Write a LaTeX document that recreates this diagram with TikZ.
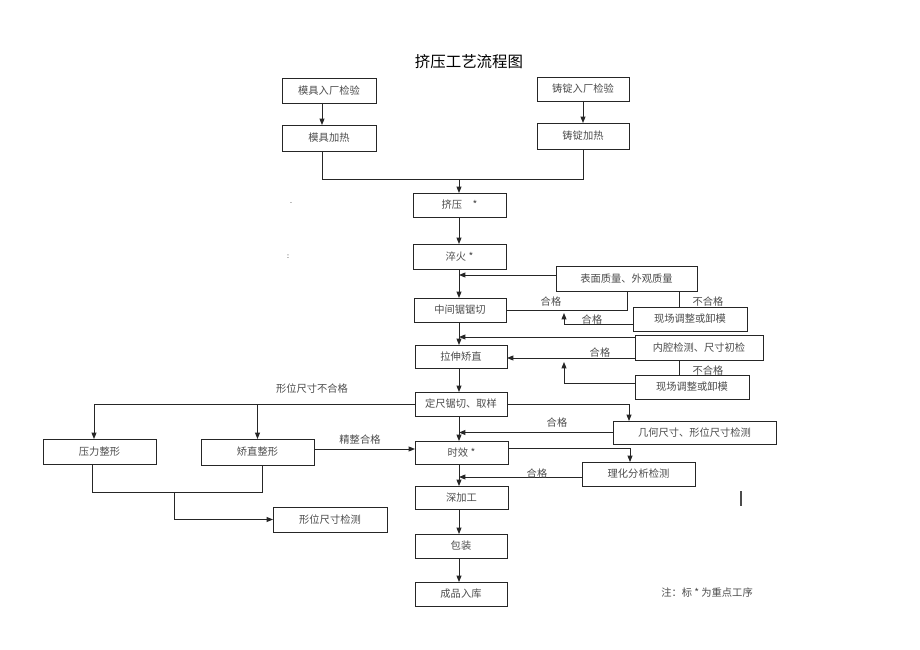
\documentclass[tikz,border=0pt]{standalone}
\usepackage{fontspec}
\newfontfamily\cjk{Noto Sans CJK SC}
\usetikzlibrary{arrows.meta,calc}
\newcommand\mybox[6]{\node[box, minimum width={(#4-#2)*0.025cm}, minimum height={(#5-#3)*0.025cm}] (#1) at ({(#2+#4)/2},{(#3+#5)/2}) {#6};}
\begin{document}
\begin{tikzpicture}[x=0.025cm,y=-0.025cm,
  box/.style={draw=black!85, line width=0.6pt, inner sep=0pt, outer sep=0pt, font=\cjk\fontsize{7.3}{9}\selectfont, text=black!70},
  ln/.style={draw=black!85, line width=0.6pt},
  arr/.style={ln, -{Triangle[length=4.5pt,width=3.5pt]}},
  lbl/.style={font=\cjk\fontsize{7.3}{9}\selectfont, text=black!70, inner sep=1pt}]
\path[use as bounding box, fill=white] (0,0) rectangle (920,650);

\node[font=\cjk\fontsize{11}{13}\selectfont] (title) at (469,62) {挤压工艺流程图};

\mybox{m1}{282}{78}{376}{103}{模具入厂检验}
\mybox{m2}{282}{125}{376}{151}{模具加热}
\mybox{z1}{537}{77}{629}{101}{铸锭入厂检验}
\mybox{z2}{537}{123}{629}{149}{铸锭加热}
\mybox{jy}{413}{193}{506}{217}{挤压\quad *}
\mybox{ch}{413}{244}{506}{269}{淬火 *}
\mybox{bm}{556}{266}{697}{291}{表面质量、外观质量}
\mybox{zj}{414}{298}{506}{322}{中间锯锯切}
\mybox{xc1}{633}{307}{747}{331}{现场调整或卸模}
\mybox{nq}{635}{335}{763}{360}{内腔检测、尺寸初检}
\mybox{ls}{415}{345}{507}{368}{拉伸矫直}
\mybox{xc2}{635}{375}{749}{399}{现场调整或卸模}
\mybox{dc}{415}{392}{507}{416}{定尺锯切、取样}
\mybox{yl}{43}{439}{156}{464}{压力整形}
\mybox{jz}{201}{439}{314}{465}{矫直整形}
\mybox{sx}{415}{441}{508}{464}{时效 *}
\mybox{jh}{613}{421}{776}{444}{几何尺寸、形位尺寸检测}
\mybox{lh}{582}{462}{695}{486}{理化分析检测}
\mybox{sj}{415}{486}{508}{509}{深加工}
\mybox{xw}{273}{507}{387}{532}{形位尺寸检测}
\mybox{bz}{415}{534}{507}{558}{包装}
\mybox{cp}{415}{582}{507}{606}{成品入库}

% helper coordinates
\coordinate (y179) at (0,179);
\coordinate (xA) at (322,0);
\coordinate (xM) at (459,0);
\coordinate (x627) at (627,0);
\coordinate (x679) at (679,0);
\coordinate (x94) at (94,0);
\coordinate (x629) at (629,0);
\coordinate (x630) at (630,0);
\coordinate (x92) at (92,0);
\coordinate (x262) at (262,0);
\coordinate (y492) at (0,492);
\coordinate (e2) at (564,313);
\coordinate (e5) at (564,362);
\coordinate (j1) at (174,492);
\coordinate (p1) at ($(bm.west)+(0,-3.5)$);
\coordinate (p2) at ($(xc1.west)+(0,5)$);
\coordinate (p3) at ($(nq.west)+(0,-10.5)$);
\coordinate (p4) at ($(nq.west)+(0,10.5)$);
\coordinate (p5) at ($(xc2.west)+(0,-4)$);
\coordinate (p6) at ($(jz.east)+(0,-3)$);
\coordinate (p7) at ($(sx.east)+(0,-4.5)$);
\coordinate (p8) at ($(lh.west)+(0,3)$);

% top
\draw[arr] (m1.south -| xA) -- (m2.north -| xA);
\draw[arr] (z1.south) -- (z2.north);
\draw[ln] (m2.south -| xA) |- (z2.south |- y179) -- (z2.south);
\draw[arr] (xM |- y179) -- (jy.north -| xM);
\draw[arr] (jy.south -| xM) -- (ch.north -| xM);
\draw[arr] (ch.south -| xM) -- (zj.north -| xM);

% surface quality loop
\draw[arr] (p1) -- (p1 -| xM);
\draw[ln] (zj.east) -| (bm.south -| x627);
\node[lbl] (l1) at (551,302) {合格};
\draw[ln] (bm.south -| x679) -- (xc1.north -| x679);
\node[lbl] (l2) at (708,302) {不合格};
\draw[arr] (p2) -| (e2);
\node[lbl] (l3) at (592,320) {合格};

% inner cavity loop
\draw[arr] (p3) -- (p3 -| xM);
\draw[arr] (zj.south -| xM) -- (ls.north -| xM);
\draw[arr] (p4) -- (p4 -| ls.east);
\node[lbl] (l4) at (600,353) {合格};
\draw[ln] (nq.south -| x679) -- (xc2.north -| x679);
\node[lbl] (l5) at (708,371) {不合格};
\draw[arr] (p5) -| (e5);
\draw[arr] (ls.south -| xM) -- (dc.north -| xM);

% left branch
\draw[arr] (dc.west) -| (yl.north -| x94);
\draw[arr] (dc.west -| jz.north) -- (jz.north);
\node[lbl] (l6) at (312,389) {形位尺寸不合格};
\draw[arr] (p6) -- (p6 -| sx.west);
\node[lbl] (l7) at (360,440) {精整合格};
\draw[ln] (yl.south -| x92) |- (y492 -| x262) -- (jz.south -| x262);
\draw[arr] (j1) |- (xw.west);

% right checks
\draw[arr] (dc.east) -| (jh.north -| x629);
\draw[arr] (jh.west) -- (jh.west -| xM);
\node[lbl] (l8) at (557,423) {合格};
\draw[arr] (dc.south -| xM) -- (sx.north -| xM);
\draw[arr] (p7) -| (lh.north -| x630);
\draw[arr] (p8) -- (p8 -| xM);
\node[lbl] (l9) at (537,474) {合格};
\draw[arr] (sx.south -| xM) -- (sj.north -| xM);
\draw[arr] (sj.south -| xM) -- (bz.north -| xM);
\draw[arr] (bz.south -| xM) -- (cp.north -| xM);

% note and stray marks
\node[lbl] (note) at (707,593) {注：标 * 为重点工序};
\node[lbl, font=\fontsize{6}{7}\selectfont] (d1) at (291,203) {.};
\node[lbl, font=\fontsize{6}{7}\selectfont] (d2) at (288,257) {:};
\draw[line width=0.8pt, black!70] (741,491) -- (741,506);
\end{tikzpicture}
\end{document}
